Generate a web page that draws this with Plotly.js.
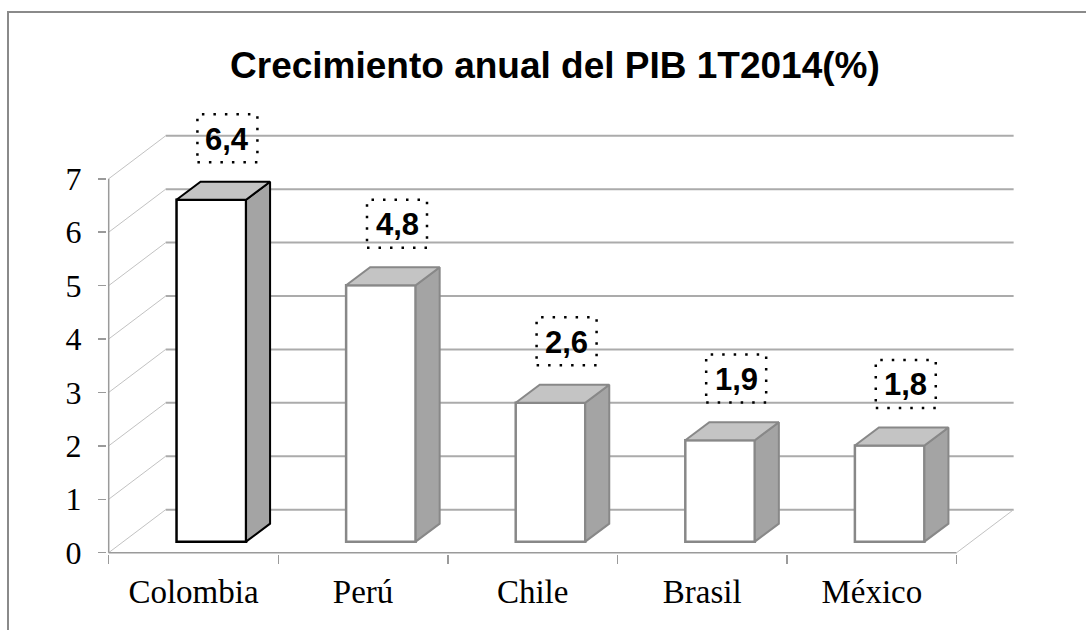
<!DOCTYPE html>
<html>
<head>
<meta charset="utf-8">
<script src="https://cdn.plot.ly/plotly-3.0.1.min.js"></script>
<style>
  html, body { margin: 0; padding: 0; background: #ffffff; overflow: hidden; }
  #wrap { position: relative; width: 1086px; height: 630px; }
  #frame { position: absolute; left: 7px; top: 11px; width: 1100px; height: 640px;
           border-top: 2px solid #8a8a8a; border-left: 2px solid #8a8a8a; }
  #chart { position: absolute; left: 0; top: 0; width: 1086px; height: 630px; }
</style>
</head>
<body>
<div id="wrap">
  <div id="frame"></div>
  <div id="chart"></div>
</div>
<script>
// ---- data ----
const categories = ['Colombia', 'Perú', 'Chile', 'Brasil', 'México'];
const values = [6.4, 4.8, 2.6, 1.9, 1.8];
const yTickValues = [0, 1, 2, 3, 4, 5, 6, 7];
const yTickLabels = ['0', '1', '2', '3', '4', '5', '6', '7'];
const titleText = 'Crecimiento anual del PIB 1T2014(%)';

// ---- styling / 3D geometry (in axis units) ----
const outlineColors = ['#000000', '#888888', '#888888', '#888888', '#888888'];
const WALL_DX = 0.336, WALL_DY = 0.805;   // full depth of the 3D box
const BAR_BASE = 0.206;                    // bar front face sits a quarter of the way in
const BAR_SHIFT = 0.105, BAR_W = 0.41;     // horizontal placement of bar front face
const BAR_DX = 0.1416, BAR_DY = 0.337;     // bar depth
const LABEL_DX = 0.2, LABEL_LIFT = 1.36;   // label placement relative to bar
const X_MIN = -0.5, X_MAX = categories.length - 0.5;

const shapes = [];
const lineShape = (x0, y0, x1, y1, color, width) => ({
  type: 'line', xref: 'x', yref: 'y', x0, y0, x1, y1, layer: 'below',
  line: { color, width }
});
// back wall gridlines and left wall diagonals
yTickValues.forEach(k => {
  shapes.push(lineShape(X_MIN + WALL_DX, k + WALL_DY, X_MAX + WALL_DX, k + WALL_DY, '#ababab', 2));
  shapes.push(lineShape(X_MIN, k, X_MIN + WALL_DX, k + WALL_DY, '#c2c2c2', 1));
});
// front axis line, floor front edge, floor right edge
shapes.push(lineShape(X_MIN, 0, X_MIN, yTickValues[yTickValues.length - 1], '#9a9a9a', 1.5));
shapes.push(lineShape(X_MIN, 0, X_MAX, 0, '#9a9a9a', 1.5));
shapes.push(lineShape(X_MAX, 0, X_MAX + WALL_DX, WALL_DY, '#c2c2c2', 1));

// label boxes (dotted)
values.forEach((v, i) => {
  shapes.push({
    type: 'rect', xref: 'x', yref: 'y', xsizemode: 'pixel', ysizemode: 'pixel',
    xanchor: i + LABEL_DX, yanchor: v + LABEL_LIFT,
    x0: -30, x1: 30, y0: -24, y1: 24, layer: 'above',
    line: { color: '#000', width: 2.5, dash: '2.5px,9px' }
  });
});

const traces = [];
// front faces through a bar trace
traces.push({
  type: 'bar', x: categories.map((c, i) => i), y: values, base: BAR_BASE,
  width: BAR_W, offset: BAR_SHIFT - BAR_W / 2,
  marker: { color: '#ffffff', line: { color: outlineColors, width: 2.5 } },
  hoverinfo: 'skip', showlegend: false
});
// side and top faces
values.forEach((v, i) => {
  const xl = i + BAR_SHIFT - BAR_W / 2, xr = i + BAR_SHIFT + BAR_W / 2;
  const b = BAR_BASE, t = BAR_BASE + v;
  traces.push({
    type: 'scatter', mode: 'lines', fill: 'toself', fillcolor: '#a4a4a4',
    x: [xr, xr + BAR_DX, xr + BAR_DX, xr, xr],
    y: [b, b + BAR_DY, t + BAR_DY, t, b],
    line: { color: outlineColors[i], width: 2 }, hoverinfo: 'skip', showlegend: false
  });
  traces.push({
    type: 'scatter', mode: 'lines', fill: 'toself', fillcolor: '#c4c4c4',
    x: [xl, xl + BAR_DX, xr + BAR_DX, xr, xl],
    y: [t, t + BAR_DY, t + BAR_DY, t, t],
    line: { color: outlineColors[i], width: 2 }, hoverinfo: 'skip', showlegend: false
  });
});
// keep the tick-mark axis alive
traces.push({ type: 'scatter', x: [], y: [], xaxis: 'x2', yaxis: 'y', hoverinfo: 'skip', showlegend: false });

const annotations = values.map((v, i) => ({
  xref: 'x', yref: 'y', x: i + LABEL_DX, y: v + LABEL_LIFT,
  text: String(v).replace('.', ','), showarrow: false,
  xanchor: 'center', yanchor: 'middle', yshift: -1,
  font: { family: 'Liberation Sans, Arial, sans-serif', size: 31, color: '#000', weight: 700 }
}));

const layout = {
  width: 1086, height: 630,
  margin: { l: 107, r: 70, t: 104, b: 76, pad: 0 },
  paper_bgcolor: 'rgba(0,0,0,0)', plot_bgcolor: 'rgba(0,0,0,0)',
  showlegend: false,
  title: {
    text: titleText, xref: 'container', yref: 'container',
    x: 0.511, xanchor: 'center', y: 0.897, yanchor: 'middle',
    font: { family: 'Liberation Sans, Arial, sans-serif', size: 37, color: '#000', weight: 700 }
  },
  xaxis: {
    range: [-0.51, 4.85], tickvals: categories.map((c, i) => i), ticktext: categories,
    ticks: '', showgrid: false, zeroline: false, showline: false, fixedrange: true,
    ticklabelstandoff: 15,
    tickfont: { family: 'Liberation Serif, Times New Roman, serif', size: 33, color: '#000' }
  },
  xaxis2: {
    overlaying: 'x', anchor: 'y', side: 'bottom', range: [-0.51, 4.85],
    tickvals: categories.map((c, i) => i - 0.5).concat([X_MAX]),
    ticks: 'outside', ticklen: 9, tickwidth: 1.5, tickcolor: '#9a9a9a',
    showticklabels: false, showgrid: false, zeroline: false, showline: false
  },
  yaxis: {
    range: [-0.025, 8.4], tickvals: yTickValues, ticktext: yTickLabels,
    ticks: 'outside', ticklen: 8, tickwidth: 1.5, tickcolor: '#9a9a9a',
    showgrid: false, zeroline: false, showline: false, fixedrange: true,
    ticklabelstandoff: 10,
    tickfont: { family: 'Liberation Serif, Times New Roman, serif', size: 32, color: '#000' }
  },
  shapes, annotations
};

Plotly.newPlot('chart', traces, layout, { staticPlot: true, displayModeBar: false });
</script>
</body>
</html>
